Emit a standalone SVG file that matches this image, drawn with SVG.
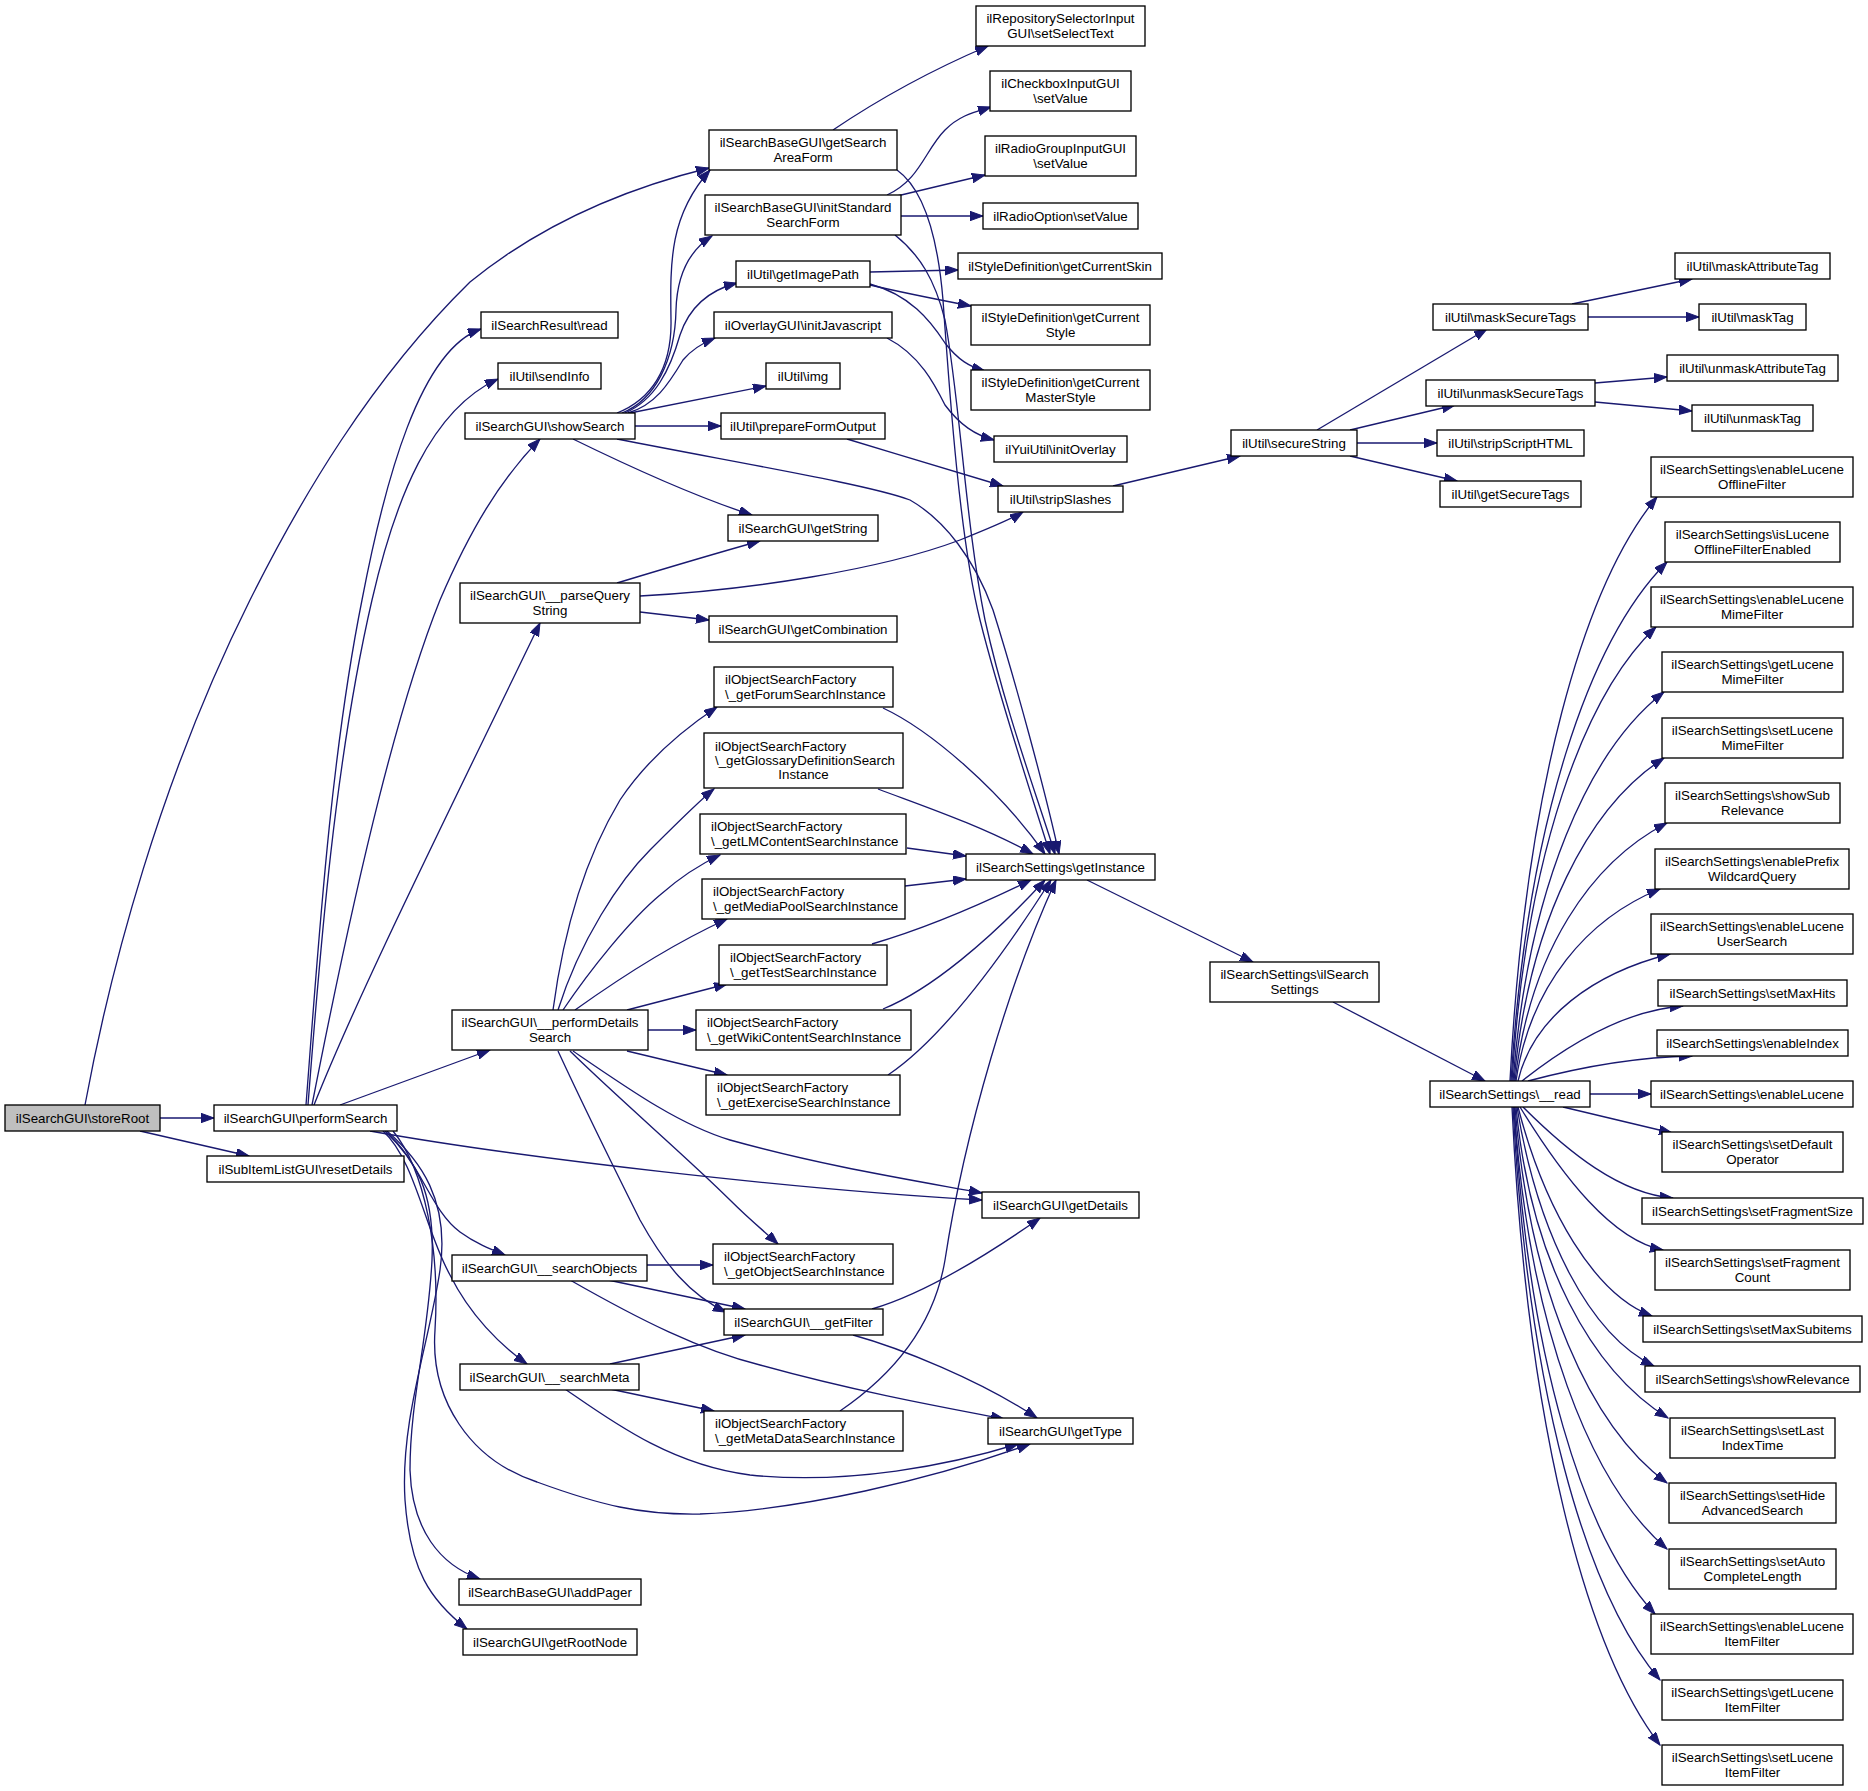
<svg xmlns="http://www.w3.org/2000/svg" width="1868" height="1791" viewBox="0 0 1868 1791">
<style>
.node rect{fill:#ffffff;stroke:#000000;stroke-width:1.33}
.node rect.root{fill:#bfbfbf}
.node text{font-family:"Liberation Sans",Arial,Helvetica,sans-serif;font-size:13.33px;fill:#000000;text-anchor:middle}
.node text.l{text-anchor:start}
#edges path{fill:none;stroke:#191970;stroke-width:1.33;marker-end:url(#arr)}
</style>
<defs>
<marker id="arr" markerUnits="userSpaceOnUse" markerWidth="14" markerHeight="10" viewBox="0 0 14 10" refX="13" refY="4.7" orient="auto">
<path d="M0,0 L13,4.7 L0,9.4 z" fill="#191970" stroke="#191970" stroke-width="1"/>
</marker>
</defs>
<rect x="0" y="0" width="1868" height="1791" fill="#ffffff"/>
<g id="edges">
<path d="M160,1118 L214,1118"/>
<path d="M140,1131 L249,1156"/>
<path d="M85,1105 C110,970 160,780 250,600 C300,500 370,380 470,282 C540,225 620,190 709,168"/>
<path d="M306,1105 C318,950 330,760 362,600 C385,480 420,350 481,329"/>
<path d="M308,1105 C320,950 335,760 372,600 C395,500 430,410 498,379"/>
<path d="M312,1105 C360,860 400,700 440,600 C470,530 500,480 540,439"/>
<path d="M314,1105 C360,990 440,830 540,623"/>
<path d="M340,1105 L490,1050"/>
<path d="M370,1131 C520,1158 800,1190 982,1200"/>
<path d="M385,1131 C420,1160 430,1210 460,1232 C475,1243 490,1249 505,1255"/>
<path d="M383,1131 C415,1160 425,1230 450,1275 C470,1315 500,1345 527,1364"/>
<path d="M393,1131 C425,1170 440,1250 435,1330 C430,1400 470,1460 537,1482 C600,1505 640,1515 700,1514 C800,1510 930,1480 1030,1444"/>
<path d="M385,1131 C415,1160 435,1190 432,1260 C428,1340 410,1400 410,1470 C412,1530 440,1565 480,1579"/>
<path d="M387,1131 C420,1160 450,1200 440,1270 C430,1340 400,1420 405,1500 C410,1570 430,1600 467,1629"/>
<path d="M617,413 C650,400 672,370 671,320 C670,260 670,215 710,170"/>
<path d="M622,413 C655,400 675,360 676,310 C677,275 690,250 712,236"/>
<path d="M625,413 C655,400 670,370 680,335 C690,305 710,290 737,283"/>
<path d="M628,413 C655,405 668,385 683,360 C693,348 705,342 715,338"/>
<path d="M630,413 L766,386"/>
<path d="M635,426 L721,426"/>
<path d="M573,439 C620,462 690,495 752,515"/>
<path d="M617,439 C750,465 870,485 910,500 C945,520 975,560 993,610 C1015,680 1045,790 1059,854"/>
<path d="M617,583 C660,570 710,555 760,541"/>
<path d="M640,612 L709,620"/>
<path d="M640,596 C750,590 880,570 960,540 C990,528 1010,520 1023,512"/>
<path d="M847,439 C900,455 960,473 1003,486"/>
<path d="M833,130 C870,105 920,75 988,46"/>
<path d="M897,170 C925,190 938,240 943,300 C950,400 960,540 980,620 C1000,700 1030,790 1050,854"/>
<path d="M887,195 C920,180 925,150 945,130 C960,115 975,112 991,107"/>
<path d="M897,196 L985,175"/>
<path d="M901,216 L983,216"/>
<path d="M895,235 C920,255 935,280 945,320 C960,400 965,520 985,620 C1005,710 1035,790 1055,854"/>
<path d="M870,272 L958,270"/>
<path d="M870,285 C900,292 940,300 971,306"/>
<path d="M870,284 C910,295 930,320 945,343 C958,360 970,367 985,371"/>
<path d="M887,338 C920,355 935,385 945,405 C960,425 975,435 994,440"/>
<path d="M1113,486 L1240,456"/>
<path d="M1317,430 L1487,329"/>
<path d="M1350,430 L1455,405"/>
<path d="M1357,443 L1437,443"/>
<path d="M1350,456 L1457,481"/>
<path d="M1572,304 L1692,279"/>
<path d="M1588,317 L1699,317"/>
<path d="M1595,383 L1667,377"/>
<path d="M1595,402 L1692,411"/>
<path d="M553,1010 C565,920 590,850 620,800 C650,755 690,725 717,707"/>
<path d="M558,1010 C580,940 620,880 650,850 C680,820 700,800 714,789"/>
<path d="M563,1010 C590,970 630,920 660,895 C685,873 705,862 720,855"/>
<path d="M575,1010 C610,985 670,945 727,919"/>
<path d="M627,1010 L727,984"/>
<path d="M648,1030 L696,1030"/>
<path d="M627,1051 L727,1075"/>
<path d="M558,1051 C590,1120 620,1180 640,1220 C665,1265 690,1295 726,1312"/>
<path d="M570,1051 C620,1100 690,1160 730,1200 C750,1220 765,1232 778,1244"/>
<path d="M573,1051 C630,1090 680,1125 730,1140 C820,1165 900,1178 982,1193"/>
<path d="M883,708 C930,730 1000,790 1045,854"/>
<path d="M878,789 C920,805 980,825 1033,854"/>
<path d="M907,848 L966,856"/>
<path d="M905,886 L966,879"/>
<path d="M872,944 C920,930 980,905 1031,880"/>
<path d="M883,1009 C930,990 990,940 1045,880"/>
<path d="M888,1075 C940,1040 1000,960 1051,880"/>
<path d="M840,1411 C900,1370 935,1320 945,1260 C965,1130 1010,980 1056,880"/>
<path d="M1087,880 L1253,962"/>
<path d="M1333,1002 L1485,1081"/>
<path d="M647,1265 L713,1265"/>
<path d="M608,1280 L745,1309"/>
<path d="M570,1280 C640,1320 700,1350 760,1365 C850,1390 930,1405 1004,1419"/>
<path d="M610,1364 L745,1335"/>
<path d="M610,1389 L714,1411"/>
<path d="M565,1389 C610,1420 670,1465 750,1475 C850,1485 950,1465 1018,1444"/>
<path d="M872,1309 C920,1295 980,1260 1040,1218"/>
<path d="M853,1335 C900,1348 980,1380 1037,1418"/>
<path d="M1510,1081 C1525,789 1584,585 1657,497"/>
<path d="M1511,1081 C1527,822 1589,640 1667,562"/>
<path d="M1512,1081 C1526,854 1584,695 1656,627"/>
<path d="M1513,1081 C1528,887 1589,750 1664,692"/>
<path d="M1514,1081 C1529,920 1589,806 1664,758"/>
<path d="M1515,1081 C1530,952 1591,862 1667,823"/>
<path d="M1516,1081 C1530,985 1588,918 1660,889"/>
<path d="M1518,1081 C1533,1017 1594,973 1670,954"/>
<path d="M1522,1081 C1570,1043 1627,1010 1683,1006"/>
<path d="M1528,1081 C1577,1068 1635,1057 1692,1056"/>
<path d="M1590,1094 L1651,1094"/>
<path d="M1563,1107 L1672,1133"/>
<path d="M1523,1107 C1568,1152 1620,1194 1673,1198"/>
<path d="M1520,1107 C1563,1177 1612,1240 1663,1250"/>
<path d="M1518,1107 C1545,1211 1595,1295 1652,1316"/>
<path d="M1517,1107 C1538,1236 1590,1335 1654,1366"/>
<path d="M1516,1107 C1531,1262 1592,1371 1668,1418"/>
<path d="M1515,1107 C1530,1295 1591,1427 1667,1483"/>
<path d="M1514,1107 C1529,1328 1590,1483 1667,1549"/>
<path d="M1514,1107 C1528,1360 1584,1538 1655,1614"/>
<path d="M1513,1107 C1528,1393 1586,1594 1660,1680"/>
<path d="M1512,1107 C1527,1426 1586,1649 1660,1745"/>
</g>
<g id="n_storeRoot" class="node"><rect class="root" x="5" y="1105" width="155" height="26"/><text x="82.5" y="1122.5">ilSearchGUI\storeRoot</text></g>
<g id="n_performSearch" class="node"><rect x="214" y="1105" width="183" height="26"/><text x="305.5" y="1122.5">ilSearchGUI\performSearch</text></g>
<g id="n_resetDetails" class="node"><rect x="207" y="1156" width="197" height="26"/><text x="305.5" y="1173.5">ilSubItemListGUI\resetDetails</text></g>
<g id="n_read" class="node"><rect x="481" y="312" width="137" height="26"/><text x="549.5" y="329.5">ilSearchResult\read</text></g>
<g id="n_sendInfo" class="node"><rect x="498" y="363" width="103" height="26"/><text x="549.5" y="380.5">ilUtil\sendInfo</text></g>
<g id="n_showSearch" class="node"><rect x="465" y="413" width="170" height="26"/><text x="550" y="430.5">ilSearchGUI\showSearch</text></g>
<g id="n_parseQueryString" class="node"><rect x="460" y="583" width="180" height="40"/><text x="550" y="600.4">ilSearchGUI\__parseQuery</text><text x="550" y="614.6">String</text></g>
<g id="n_performDetailsSearch" class="node"><rect x="452" y="1010" width="196" height="40"/><text x="550" y="1027.4">ilSearchGUI\__performDetails</text><text x="550" y="1041.6">Search</text></g>
<g id="n_searchObjects" class="node"><rect x="452" y="1255" width="195" height="26"/><text x="549.5" y="1272.5">ilSearchGUI\__searchObjects</text></g>
<g id="n_searchMeta" class="node"><rect x="460" y="1364" width="179" height="26"/><text x="549.5" y="1381.5">ilSearchGUI\__searchMeta</text></g>
<g id="n_addPager" class="node"><rect x="459" y="1579" width="182" height="26"/><text x="550" y="1596.5">ilSearchBaseGUI\addPager</text></g>
<g id="n_getRootNode" class="node"><rect x="463" y="1629" width="174" height="26"/><text x="550" y="1646.5">ilSearchGUI\getRootNode</text></g>
<g id="n_getSearchAreaForm" class="node"><rect x="709" y="130" width="188" height="40"/><text x="803" y="147.4">ilSearchBaseGUI\getSearch</text><text x="803" y="161.6">AreaForm</text></g>
<g id="n_initStandardSearchForm" class="node"><rect x="705" y="195" width="196" height="40"/><text x="803" y="212.4">ilSearchBaseGUI\initStandard</text><text x="803" y="226.6">SearchForm</text></g>
<g id="n_getImagePath" class="node"><rect x="736" y="261" width="134" height="26"/><text x="803" y="278.5">ilUtil\getImagePath</text></g>
<g id="n_initJavascript" class="node"><rect x="714" y="312" width="178" height="26"/><text x="803" y="329.5">ilOverlayGUI\initJavascript</text></g>
<g id="n_img" class="node"><rect x="766" y="363" width="74" height="26"/><text x="803" y="380.5">ilUtil\img</text></g>
<g id="n_prepareFormOutput" class="node"><rect x="721" y="413" width="164" height="26"/><text x="803" y="430.5">ilUtil\prepareFormOutput</text></g>
<g id="n_getString" class="node"><rect x="728" y="515" width="150" height="26"/><text x="803" y="532.5">ilSearchGUI\getString</text></g>
<g id="n_getCombination" class="node"><rect x="709" y="616" width="188" height="26"/><text x="803" y="633.5">ilSearchGUI\getCombination</text></g>
<g id="n_getForumSearchInstance" class="node"><rect x="714" y="667" width="179" height="40"/><text class="l" x="725" y="684.4">ilObjectSearchFactory</text><text class="l" x="725" y="698.6">\_getForumSearchInstance</text></g>
<g id="n_getGlossaryDefinitionSearchInstance" class="node"><rect x="704" y="733" width="199" height="55"/><text class="l" x="715" y="750.7">ilObjectSearchFactory</text><text class="l" x="715" y="765">\_getGlossaryDefinitionSearch</text><text x="803.5" y="779.3">Instance</text></g>
<g id="n_getLMContentSearchInstance" class="node"><rect x="700" y="814" width="206" height="40"/><text class="l" x="711" y="831.4">ilObjectSearchFactory</text><text class="l" x="711" y="845.6">\_getLMContentSearchInstance</text></g>
<g id="n_getMediaPoolSearchInstance" class="node"><rect x="702" y="879" width="203" height="40"/><text class="l" x="713" y="896.4">ilObjectSearchFactory</text><text class="l" x="713" y="910.6">\_getMediaPoolSearchInstance</text></g>
<g id="n_getTestSearchInstance" class="node"><rect x="719" y="945" width="168" height="40"/><text class="l" x="730" y="962.4">ilObjectSearchFactory</text><text class="l" x="730" y="976.6">\_getTestSearchInstance</text></g>
<g id="n_getWikiContentSearchInstance" class="node"><rect x="696" y="1010" width="215" height="40"/><text class="l" x="707" y="1027.4">ilObjectSearchFactory</text><text class="l" x="707" y="1041.6">\_getWikiContentSearchInstance</text></g>
<g id="n_getExerciseSearchInstance" class="node"><rect x="706" y="1075" width="194" height="40"/><text class="l" x="717" y="1092.4">ilObjectSearchFactory</text><text class="l" x="717" y="1106.6">\_getExerciseSearchInstance</text></g>
<g id="n_getObjectSearchInstance" class="node"><rect x="713" y="1244" width="180" height="40"/><text class="l" x="724" y="1261.4">ilObjectSearchFactory</text><text class="l" x="724" y="1275.6">\_getObjectSearchInstance</text></g>
<g id="n_getFilter" class="node"><rect x="724" y="1309" width="159" height="26"/><text x="803.5" y="1326.5">ilSearchGUI\__getFilter</text></g>
<g id="n_getMetaDataSearchInstance" class="node"><rect x="704" y="1411" width="199" height="40"/><text class="l" x="715" y="1428.4">ilObjectSearchFactory</text><text class="l" x="715" y="1442.6">\_getMetaDataSearchInstance</text></g>
<g id="n_setSelectText" class="node"><rect x="976" y="6" width="169" height="40"/><text x="1060.5" y="23.4">ilRepositorySelectorInput</text><text x="1060.5" y="37.6">GUI\setSelectText</text></g>
<g id="n_checkboxSetValue" class="node"><rect x="990" y="71" width="141" height="40"/><text x="1060.5" y="88.4">ilCheckboxInputGUI</text><text x="1060.5" y="102.6">\setValue</text></g>
<g id="n_radioGroupSetValue" class="node"><rect x="985" y="136" width="151" height="40"/><text x="1060.5" y="153.4">ilRadioGroupInputGUI</text><text x="1060.5" y="167.6">\setValue</text></g>
<g id="n_radioOptionSetValue" class="node"><rect x="983" y="203" width="155" height="26"/><text x="1060.5" y="220.5">ilRadioOption\setValue</text></g>
<g id="n_getCurrentSkin" class="node"><rect x="958" y="253" width="204" height="26"/><text x="1060" y="270.5">ilStyleDefinition\getCurrentSkin</text></g>
<g id="n_getCurrentStyle" class="node"><rect x="971" y="305" width="179" height="40"/><text x="1060.5" y="322.4">ilStyleDefinition\getCurrent</text><text x="1060.5" y="336.6">Style</text></g>
<g id="n_getCurrentMasterStyle" class="node"><rect x="971" y="370" width="179" height="40"/><text x="1060.5" y="387.4">ilStyleDefinition\getCurrent</text><text x="1060.5" y="401.6">MasterStyle</text></g>
<g id="n_initOverlay" class="node"><rect x="994" y="436" width="133" height="26"/><text x="1060.5" y="453.5">ilYuiUtil\initOverlay</text></g>
<g id="n_stripSlashes" class="node"><rect x="998" y="486" width="125" height="26"/><text x="1060.5" y="503.5">ilUtil\stripSlashes</text></g>
<g id="n_getInstance" class="node"><rect x="966" y="854" width="189" height="26"/><text x="1060.5" y="871.5">ilSearchSettings\getInstance</text></g>
<g id="n_getDetails" class="node"><rect x="982" y="1192" width="157" height="26"/><text x="1060.5" y="1209.5">ilSearchGUI\getDetails</text></g>
<g id="n_getType" class="node"><rect x="988" y="1418" width="145" height="26"/><text x="1060.5" y="1435.5">ilSearchGUI\getType</text></g>
<g id="n_secureString" class="node"><rect x="1231" y="430" width="126" height="26"/><text x="1294" y="447.5">ilUtil\secureString</text></g>
<g id="n_ilSearchSettings" class="node"><rect x="1210" y="962" width="169" height="40"/><text x="1294.5" y="979.4">ilSearchSettings\ilSearch</text><text x="1294.5" y="993.6">Settings</text></g>
<g id="n_maskSecureTags" class="node"><rect x="1433" y="304" width="155" height="26"/><text x="1510.5" y="321.5">ilUtil\maskSecureTags</text></g>
<g id="n_unmaskSecureTags" class="node"><rect x="1426" y="380" width="169" height="26"/><text x="1510.5" y="397.5">ilUtil\unmaskSecureTags</text></g>
<g id="n_stripScriptHTML" class="node"><rect x="1437" y="430" width="147" height="26"/><text x="1510.5" y="447.5">ilUtil\stripScriptHTML</text></g>
<g id="n_getSecureTags" class="node"><rect x="1440" y="481" width="141" height="26"/><text x="1510.5" y="498.5">ilUtil\getSecureTags</text></g>
<g id="n_read2" class="node"><rect x="1430" y="1081" width="160" height="26"/><text x="1510" y="1098.5">ilSearchSettings\__read</text></g>
<g id="n_maskAttributeTag" class="node"><rect x="1675" y="253" width="155" height="26"/><text x="1752.5" y="270.5">ilUtil\maskAttributeTag</text></g>
<g id="n_maskTag" class="node"><rect x="1699" y="304" width="107" height="26"/><text x="1752.5" y="321.5">ilUtil\maskTag</text></g>
<g id="n_unmaskAttributeTag" class="node"><rect x="1667" y="355" width="171" height="26"/><text x="1752.5" y="372.5">ilUtil\unmaskAttributeTag</text></g>
<g id="n_unmaskTag" class="node"><rect x="1692" y="405" width="121" height="26"/><text x="1752.5" y="422.5">ilUtil\unmaskTag</text></g>
<g id="n_enableLuceneOfflineFilter" class="node"><rect x="1651" y="457" width="202" height="40"/><text x="1752" y="474.4">ilSearchSettings\enableLucene</text><text x="1752" y="488.6">OfflineFilter</text></g>
<g id="n_isLuceneOfflineFilterEnabled" class="node"><rect x="1665" y="522" width="175" height="40"/><text x="1752.5" y="539.4">ilSearchSettings\isLucene</text><text x="1752.5" y="553.6">OfflineFilterEnabled</text></g>
<g id="n_enableLuceneMimeFilter" class="node"><rect x="1651" y="587" width="202" height="40"/><text x="1752" y="604.4">ilSearchSettings\enableLucene</text><text x="1752" y="618.6">MimeFilter</text></g>
<g id="n_getLuceneMimeFilter" class="node"><rect x="1662" y="652" width="181" height="40"/><text x="1752.5" y="669.4">ilSearchSettings\getLucene</text><text x="1752.5" y="683.6">MimeFilter</text></g>
<g id="n_setLuceneMimeFilter" class="node"><rect x="1662" y="718" width="181" height="40"/><text x="1752.5" y="735.4">ilSearchSettings\setLucene</text><text x="1752.5" y="749.6">MimeFilter</text></g>
<g id="n_showSubRelevance" class="node"><rect x="1665" y="783" width="175" height="40"/><text x="1752.5" y="800.4">ilSearchSettings\showSub</text><text x="1752.5" y="814.6">Relevance</text></g>
<g id="n_enablePrefixWildcardQuery" class="node"><rect x="1655" y="849" width="194" height="40"/><text x="1752" y="866.4">ilSearchSettings\enablePrefix</text><text x="1752" y="880.6">WildcardQuery</text></g>
<g id="n_enableLuceneUserSearch" class="node"><rect x="1651" y="914" width="202" height="40"/><text x="1752" y="931.4">ilSearchSettings\enableLucene</text><text x="1752" y="945.6">UserSearch</text></g>
<g id="n_setMaxHits" class="node"><rect x="1658" y="980" width="189" height="26"/><text x="1752.5" y="997.5">ilSearchSettings\setMaxHits</text></g>
<g id="n_enableIndex" class="node"><rect x="1657" y="1030" width="191" height="26"/><text x="1752.5" y="1047.5">ilSearchSettings\enableIndex</text></g>
<g id="n_enableLucene" class="node"><rect x="1651" y="1081" width="202" height="26"/><text x="1752" y="1098.5">ilSearchSettings\enableLucene</text></g>
<g id="n_setDefaultOperator" class="node"><rect x="1662" y="1132" width="181" height="40"/><text x="1752.5" y="1149.4">ilSearchSettings\setDefault</text><text x="1752.5" y="1163.6">Operator</text></g>
<g id="n_setFragmentSize" class="node"><rect x="1642" y="1198" width="221" height="26"/><text x="1752.5" y="1215.5">ilSearchSettings\setFragmentSize</text></g>
<g id="n_setFragmentCount" class="node"><rect x="1655" y="1250" width="195" height="40"/><text x="1752.5" y="1267.4">ilSearchSettings\setFragment</text><text x="1752.5" y="1281.6">Count</text></g>
<g id="n_setMaxSubitems" class="node"><rect x="1643" y="1316" width="219" height="26"/><text x="1752.5" y="1333.5">ilSearchSettings\setMaxSubitems</text></g>
<g id="n_showRelevance" class="node"><rect x="1645" y="1366" width="215" height="26"/><text x="1752.5" y="1383.5">ilSearchSettings\showRelevance</text></g>
<g id="n_setLastIndexTime" class="node"><rect x="1670" y="1418" width="165" height="40"/><text x="1752.5" y="1435.4">ilSearchSettings\setLast</text><text x="1752.5" y="1449.6">IndexTime</text></g>
<g id="n_setHideAdvancedSearch" class="node"><rect x="1669" y="1483" width="167" height="40"/><text x="1752.5" y="1500.4">ilSearchSettings\setHide</text><text x="1752.5" y="1514.6">AdvancedSearch</text></g>
<g id="n_setAutoCompleteLength" class="node"><rect x="1669" y="1549" width="167" height="40"/><text x="1752.5" y="1566.4">ilSearchSettings\setAuto</text><text x="1752.5" y="1580.6">CompleteLength</text></g>
<g id="n_enableLuceneItemFilter" class="node"><rect x="1651" y="1614" width="202" height="40"/><text x="1752" y="1631.4">ilSearchSettings\enableLucene</text><text x="1752" y="1645.6">ItemFilter</text></g>
<g id="n_getLuceneItemFilter" class="node"><rect x="1662" y="1680" width="181" height="40"/><text x="1752.5" y="1697.4">ilSearchSettings\getLucene</text><text x="1752.5" y="1711.6">ItemFilter</text></g>
<g id="n_setLuceneItemFilter" class="node"><rect x="1662" y="1745" width="181" height="40"/><text x="1752.5" y="1762.4">ilSearchSettings\setLucene</text><text x="1752.5" y="1776.6">ItemFilter</text></g>
</svg>
